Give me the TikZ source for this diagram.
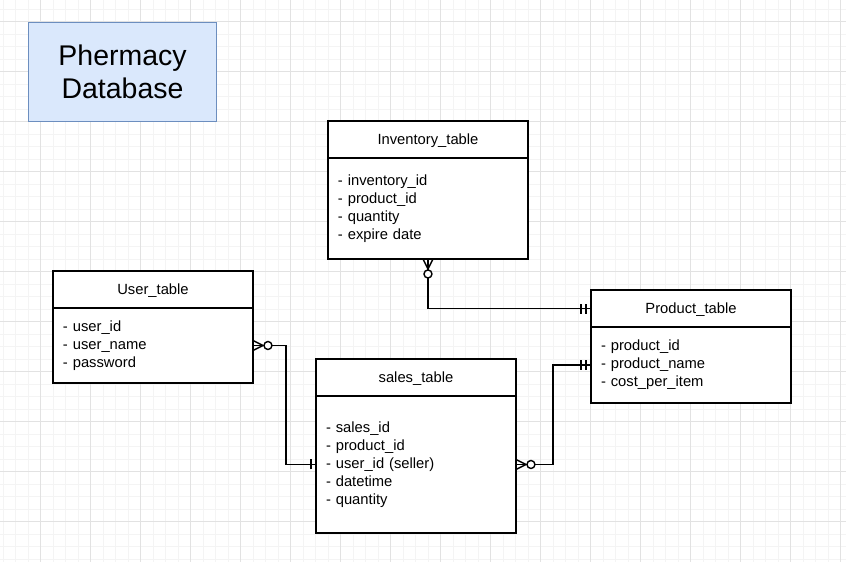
\documentclass[tikz,border=0pt]{standalone}
\usepackage{fontspec}
\setmainfont{Liberation Sans}
\usetikzlibrary{positioning, calc}
\definecolor{GridMinor}{RGB}{244,244,244}
\definecolor{GridMajor}{RGB}{226,226,226}
\definecolor{TitleFill}{RGB}{218,232,252}
\definecolor{TitleDraw}{RGB}{108,142,191}
\tikzset{
  zmany/.pic={\draw[conn] (0,-5) -- (10,0) -- (0,5);
              \draw[conn, fill=white] (15,0) circle[radius=0.08cm];},
  onetwo/.pic={\draw[conn] (5,-5) -- (5,5) (10,-5) -- (10,5);},
  oneone/.pic={\draw[conn] (5,-5) -- (5,5);},
}

\begin{document}
\begin{tikzpicture}[
  x=0.02cm, y=-0.02cm,
  gridminor/.style={draw=GridMinor, line width=0.6pt},
  gridmajor/.style={draw=GridMajor, line width=0.6pt},
  title/.style={draw=TitleDraw, fill=TitleFill, line width=0.6pt, align=center,
                font=\fontsize{16.2}{19}\selectfont, inner sep=0pt},
  hd/.style={draw, fill=white, line width=0.8pt, outer sep=0pt, minimum width=4cm,
             minimum height=0.74cm, inner sep=0pt, text depth=0pt,
             font=\fontsize{8.4}{10.2}\selectfont},
  bd/.style={draw, fill=white, line width=0.8pt, outer sep=0pt, text width=3.6cm,
             inner xsep=0.2cm, inner ysep=0pt, align=left,
             font=\fontsize{8.4}{10.2}\selectfont},
  conn/.style={line width=0.8pt},
]
\useasboundingbox (0,0) rectangle (846,562);
%% Grid
\foreach \gx in {0,...,67} \draw[gridminor] ({3.2+12.5*\gx},0) -- ++(0,562);
\foreach \gy in {0,...,44} \draw[gridminor] (0,{9.2+12.5*\gy}) -- ++(846,0);
\foreach \gx in {0,...,16} \draw[gridmajor] ({40.7+50*\gx},0) -- ++(0,562);
\foreach \gy in {0,...,10} \draw[gridmajor] (0,{21.7+50*\gy}) -- ++(846,0);
%% Title
\node[title, anchor=north west, minimum width=3.76cm, minimum height=1.98cm] (title) at (28,22) {Phermacy\\Database};
%% Inventory table
\node[hd, anchor=north west] (ih) at (328,121) {Inventory\_table};
\node[bd, minimum height=2.02cm, below=0pt of ih] (ib) {- inventory\_id\\- product\_id\\- quantity\\- expire date};
%% User table
\node[hd, anchor=north west] (uh) at (53,271) {User\_table};
\node[bd, minimum height=1.5cm, below=0pt of uh] (ub) {- user\_id\\- user\_name\\- password};
%% Product table
\node[hd, anchor=north west] (ph) at (591,290) {Product\_table};
\node[bd, minimum height=1.52cm, below=0pt of ph] (pb) {- product\_id\\- product\_name\\- cost\_per\_item};
%% Sales table
\node[hd, anchor=north west] (sh) at (316,359) {sales\_table};
\node[bd, minimum height=2.74cm, below=0pt of sh] (sb) {- sales\_id\\- product\_id\\- user\_id (seller)\\- datetime\\- quantity};
%% Relations
\draw[conn] (ib.south) |- (ph.west);
\draw[conn] (ub.east) -- ++(33,0) |- (sb.west);
\draw[conn] (sb.east) -- ++(37,0) |- (pb.west);
\pic[rotate=-90] at (ib.south) {zmany};
\pic at (ub.east) {zmany};
\pic at (sb.east) {zmany};
\pic[rotate=180] at (ph.west) {onetwo};
\pic[rotate=180] at (pb.west) {onetwo};
\pic[rotate=180] at (sb.west) {oneone};
\end{tikzpicture}
\end{document}
